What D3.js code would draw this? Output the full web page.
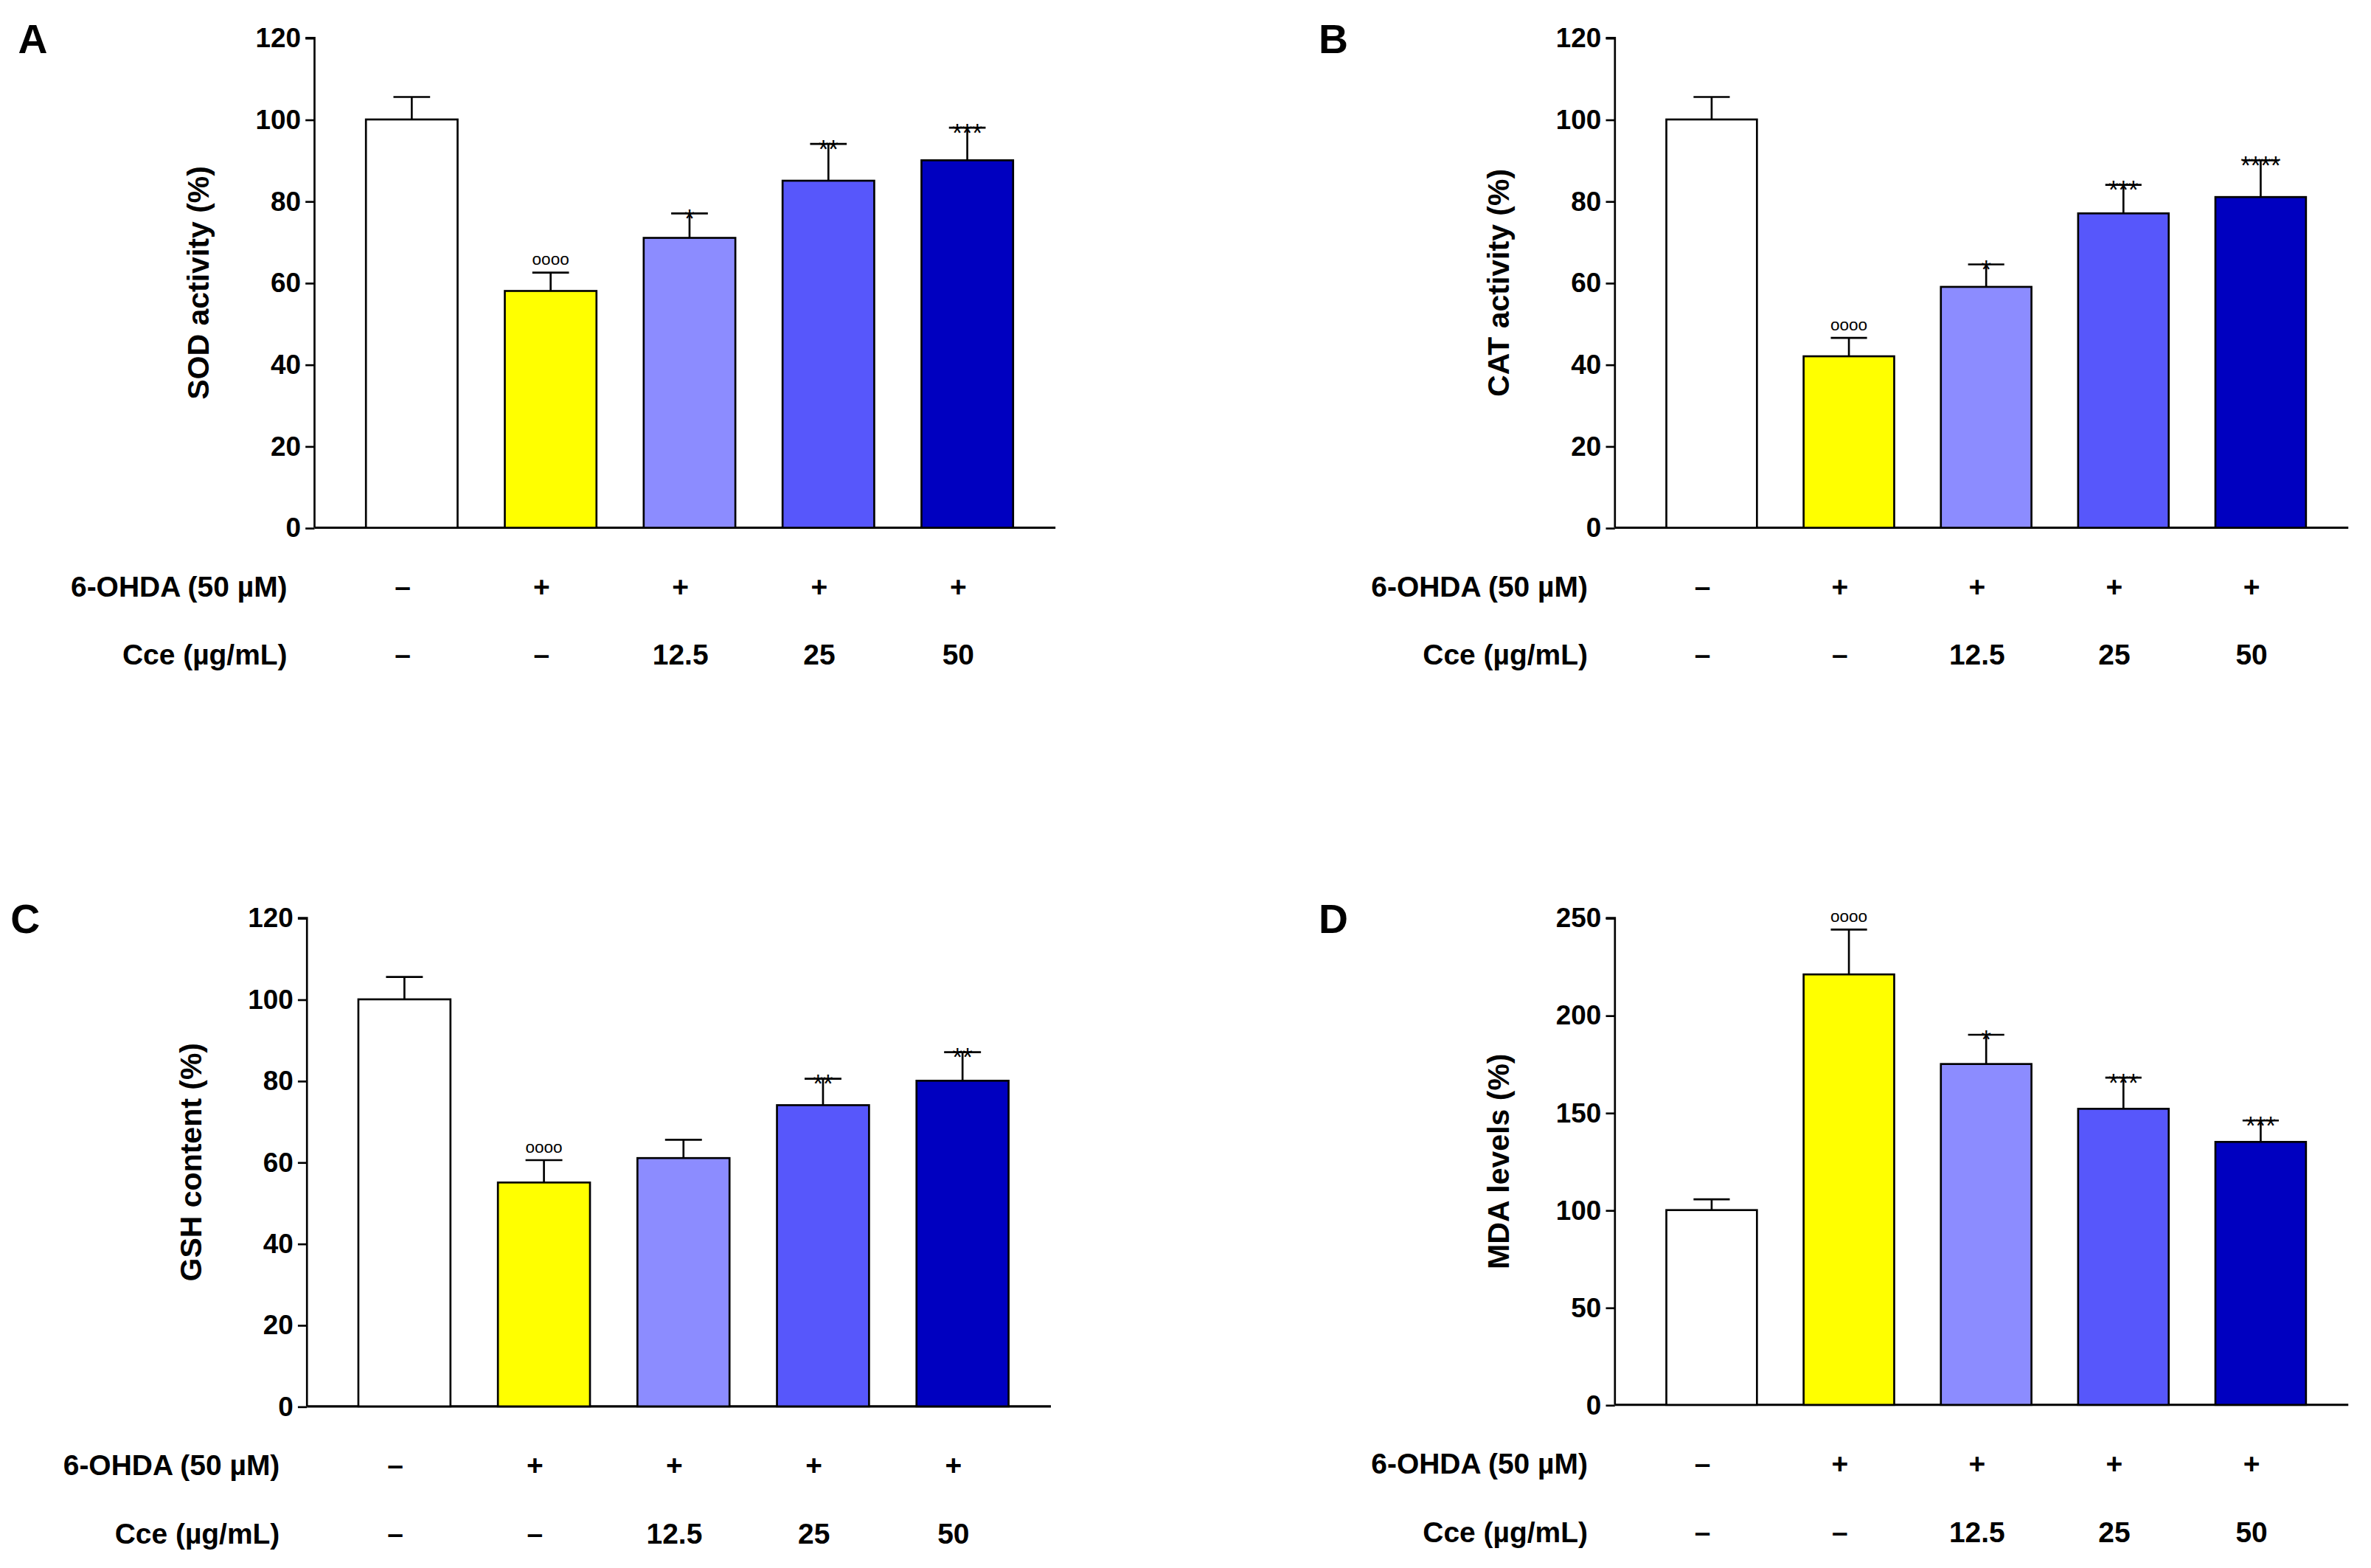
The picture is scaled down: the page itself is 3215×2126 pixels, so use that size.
<!DOCTYPE html>
<html><head><meta charset="utf-8">
<script src="https://cdn.jsdelivr.net/npm/d3@7"></script>
<style>body{margin:0;background:#fff}</style></head>
<body><svg id="c" width="3215" height="2126"></svg>
<script>
// data per panel
var colors = ["#ffffff", "#ffff00", "#8c8cff", "#5757fb", "#0000c0"]
var ohdaRow = ["\u2013", "+", "+", "+", "+"]
var cceRow = ["\u2013", "\u2013", "12.5", "25", "50"]

var sodMean = [100, 58, 71, 85, 90], sodErr = [5.5, 4.5, 6, 9, 8]
var sodSig = ["", "oooo", "*", "**", "***"]
var catMean = [100, 42, 59, 77, 81], catErr = [5.5, 4.5, 5.5, 7, 9]
var catSig = ["", "oooo", "*", "***", "****"]
var gshMean = [100, 55, 61, 74, 80], gshErr = [5.5, 5.5, 4.5, 6.5, 7]
var gshSig = ["", "oooo", "", "**", "**"]
var mdaMean = [100, 221, 175, 152, 135], mdaErr = [5.5, 23, 15, 16, 11]
var mdaSig = ["", "oooo", "*", "***", "***"]

var k = 3215 / 1568
var svg = d3.select("#c").append("g").attr("transform", "scale(" + k + ")")
var narrow = "'Liberation Sans Narrow', 'Liberation Sans', Arial, sans-serif"

function panel(o) {
  var g = svg.append("g")
  var x = d3.scaleBand().domain(d3.range(5)).range([o.x0 + 34, o.x1 - 28]).paddingInner(0.34).paddingOuter(0)
  var y = d3.scaleLinear().domain([0, o.max]).range([o.yb, o.yt])
  var bw = x.bandwidth()

  g.append("g").attr("transform", "translate(" + o.x0 + ",0)")
    .call(d3.axisLeft(y).tickValues(d3.range(0, o.max + 1, o.step)).tickSize(6).tickPadding(3))
    .call(function(a) {
      a.selectAll("text").attr("font-family", narrow).attr("font-weight", "bold").attr("font-size", 18).attr("fill", "#000")
      a.selectAll("line,path").attr("stroke", "#000").attr("stroke-width", 1.3)
      a.select(".domain").attr("d", "M-6," + o.yt + "H0V" + o.yb)
    })
  g.append("line").attr("x1", o.x0).attr("x2", o.x1).attr("y1", o.yb).attr("y2", o.yb).attr("stroke", "#000").attr("stroke-width", 1.5)

  var b = g.selectAll(".b").data(o.mean).enter().append("g")
  b.append("line").attr("x1", function(d, i) { return x(i) + bw / 2 }).attr("x2", function(d, i) { return x(i) + bw / 2 })
    .attr("y1", function(d) { return y(d) }).attr("y2", function(d, i) { return y(d + o.err[i]) }).attr("stroke", "#000").attr("stroke-width", 1.3)
  b.append("line").attr("x1", function(d, i) { return x(i) + bw * 0.3 }).attr("x2", function(d, i) { return x(i) + bw * 0.7 })
    .attr("y1", function(d, i) { return y(d + o.err[i]) }).attr("y2", function(d, i) { return y(d + o.err[i]) }).attr("stroke", "#000").attr("stroke-width", 1.3)
  b.append("rect").attr("x", function(d, i) { return x(i) }).attr("width", bw)
    .attr("y", function(d) { return y(d) }).attr("height", function(d) { return o.yb - y(d) })
    .attr("fill", function(d, i) { return colors[i] }).attr("stroke", "#000").attr("stroke-width", 1.3)
  b.append("text").attr("x", function(d, i) { return x(i) + bw / 2 })
    .attr("y", function(d, i) { return y(d + o.err[i]) - (o.sig[i] == "oooo" ? 5 : 0) })
    .attr("text-anchor", "middle").attr("font-family", "Arial, 'Liberation Sans', sans-serif")
    .attr("font-size", function(d, i) { return o.sig[i] == "oooo" ? 11 : 17 })
    .attr("dy", function(d, i) { return o.sig[i] == "oooo" ? 0 : 9 })
    .text(function(d, i) { return o.sig[i] })

  g.append("text").attr("transform", "translate(" + (o.x0 - 70) + "," + ((o.yt + o.yb) / 2) + ") rotate(-90)")
    .attr("text-anchor", "middle").attr("font-family", "Arial, 'Liberation Sans', sans-serif").attr("font-weight", "bold")
    .attr("font-size", 20).text(o.title)
  g.append("text").attr("x", o.x0 - 196).attr("y", o.yt + 10).attr("font-family", "Arial, 'Liberation Sans', sans-serif")
    .attr("font-weight", "bold").attr("font-size", 27).text(o.letter)

  var rows = [[o.yb + 39, "6-OHDA (50 \u00b5M)", ohdaRow], [o.yb + 84, "Cce (\u00b5g/mL)", cceRow]]
  rows.forEach(function(r) {
    g.append("text").attr("x", o.x0 - 18).attr("y", r[0]).attr("dy", "0.35em").attr("text-anchor", "end")
      .attr("font-family", narrow).attr("font-weight", "bold").attr("font-size", 19).text(r[1])
    g.selectAll(null).data(r[2]).enter().append("text")
      .attr("x", function(d, i) { return x(i) + bw / 2 - 6 }).attr("y", r[0]).attr("dy", "0.35em").attr("text-anchor", "middle")
      .attr("font-family", narrow).attr("font-weight", "bold").attr("font-size", 19).text(function(d) { return d })
  })
}

panel({x0: 208, x1: 698, yt: 25, yb: 349, max: 120, step: 20, mean: sodMean, err: sodErr, sig: sodSig, title: "SOD activity (%)", letter: "A"})
panel({x0: 1068, x1: 1553, yt: 25, yb: 349, max: 120, step: 20, mean: catMean, err: catErr, sig: catSig, title: "CAT activity (%)", letter: "B"})
panel({x0: 203, x1: 695, yt: 607, yb: 930, max: 120, step: 20, mean: gshMean, err: gshErr, sig: gshSig, title: "GSH content (%)", letter: "C"})
panel({x0: 1068, x1: 1553, yt: 607, yb: 929, max: 250, step: 50, mean: mdaMean, err: mdaErr, sig: mdaSig, title: "MDA levels (%)", letter: "D"})
</script></body></html>
